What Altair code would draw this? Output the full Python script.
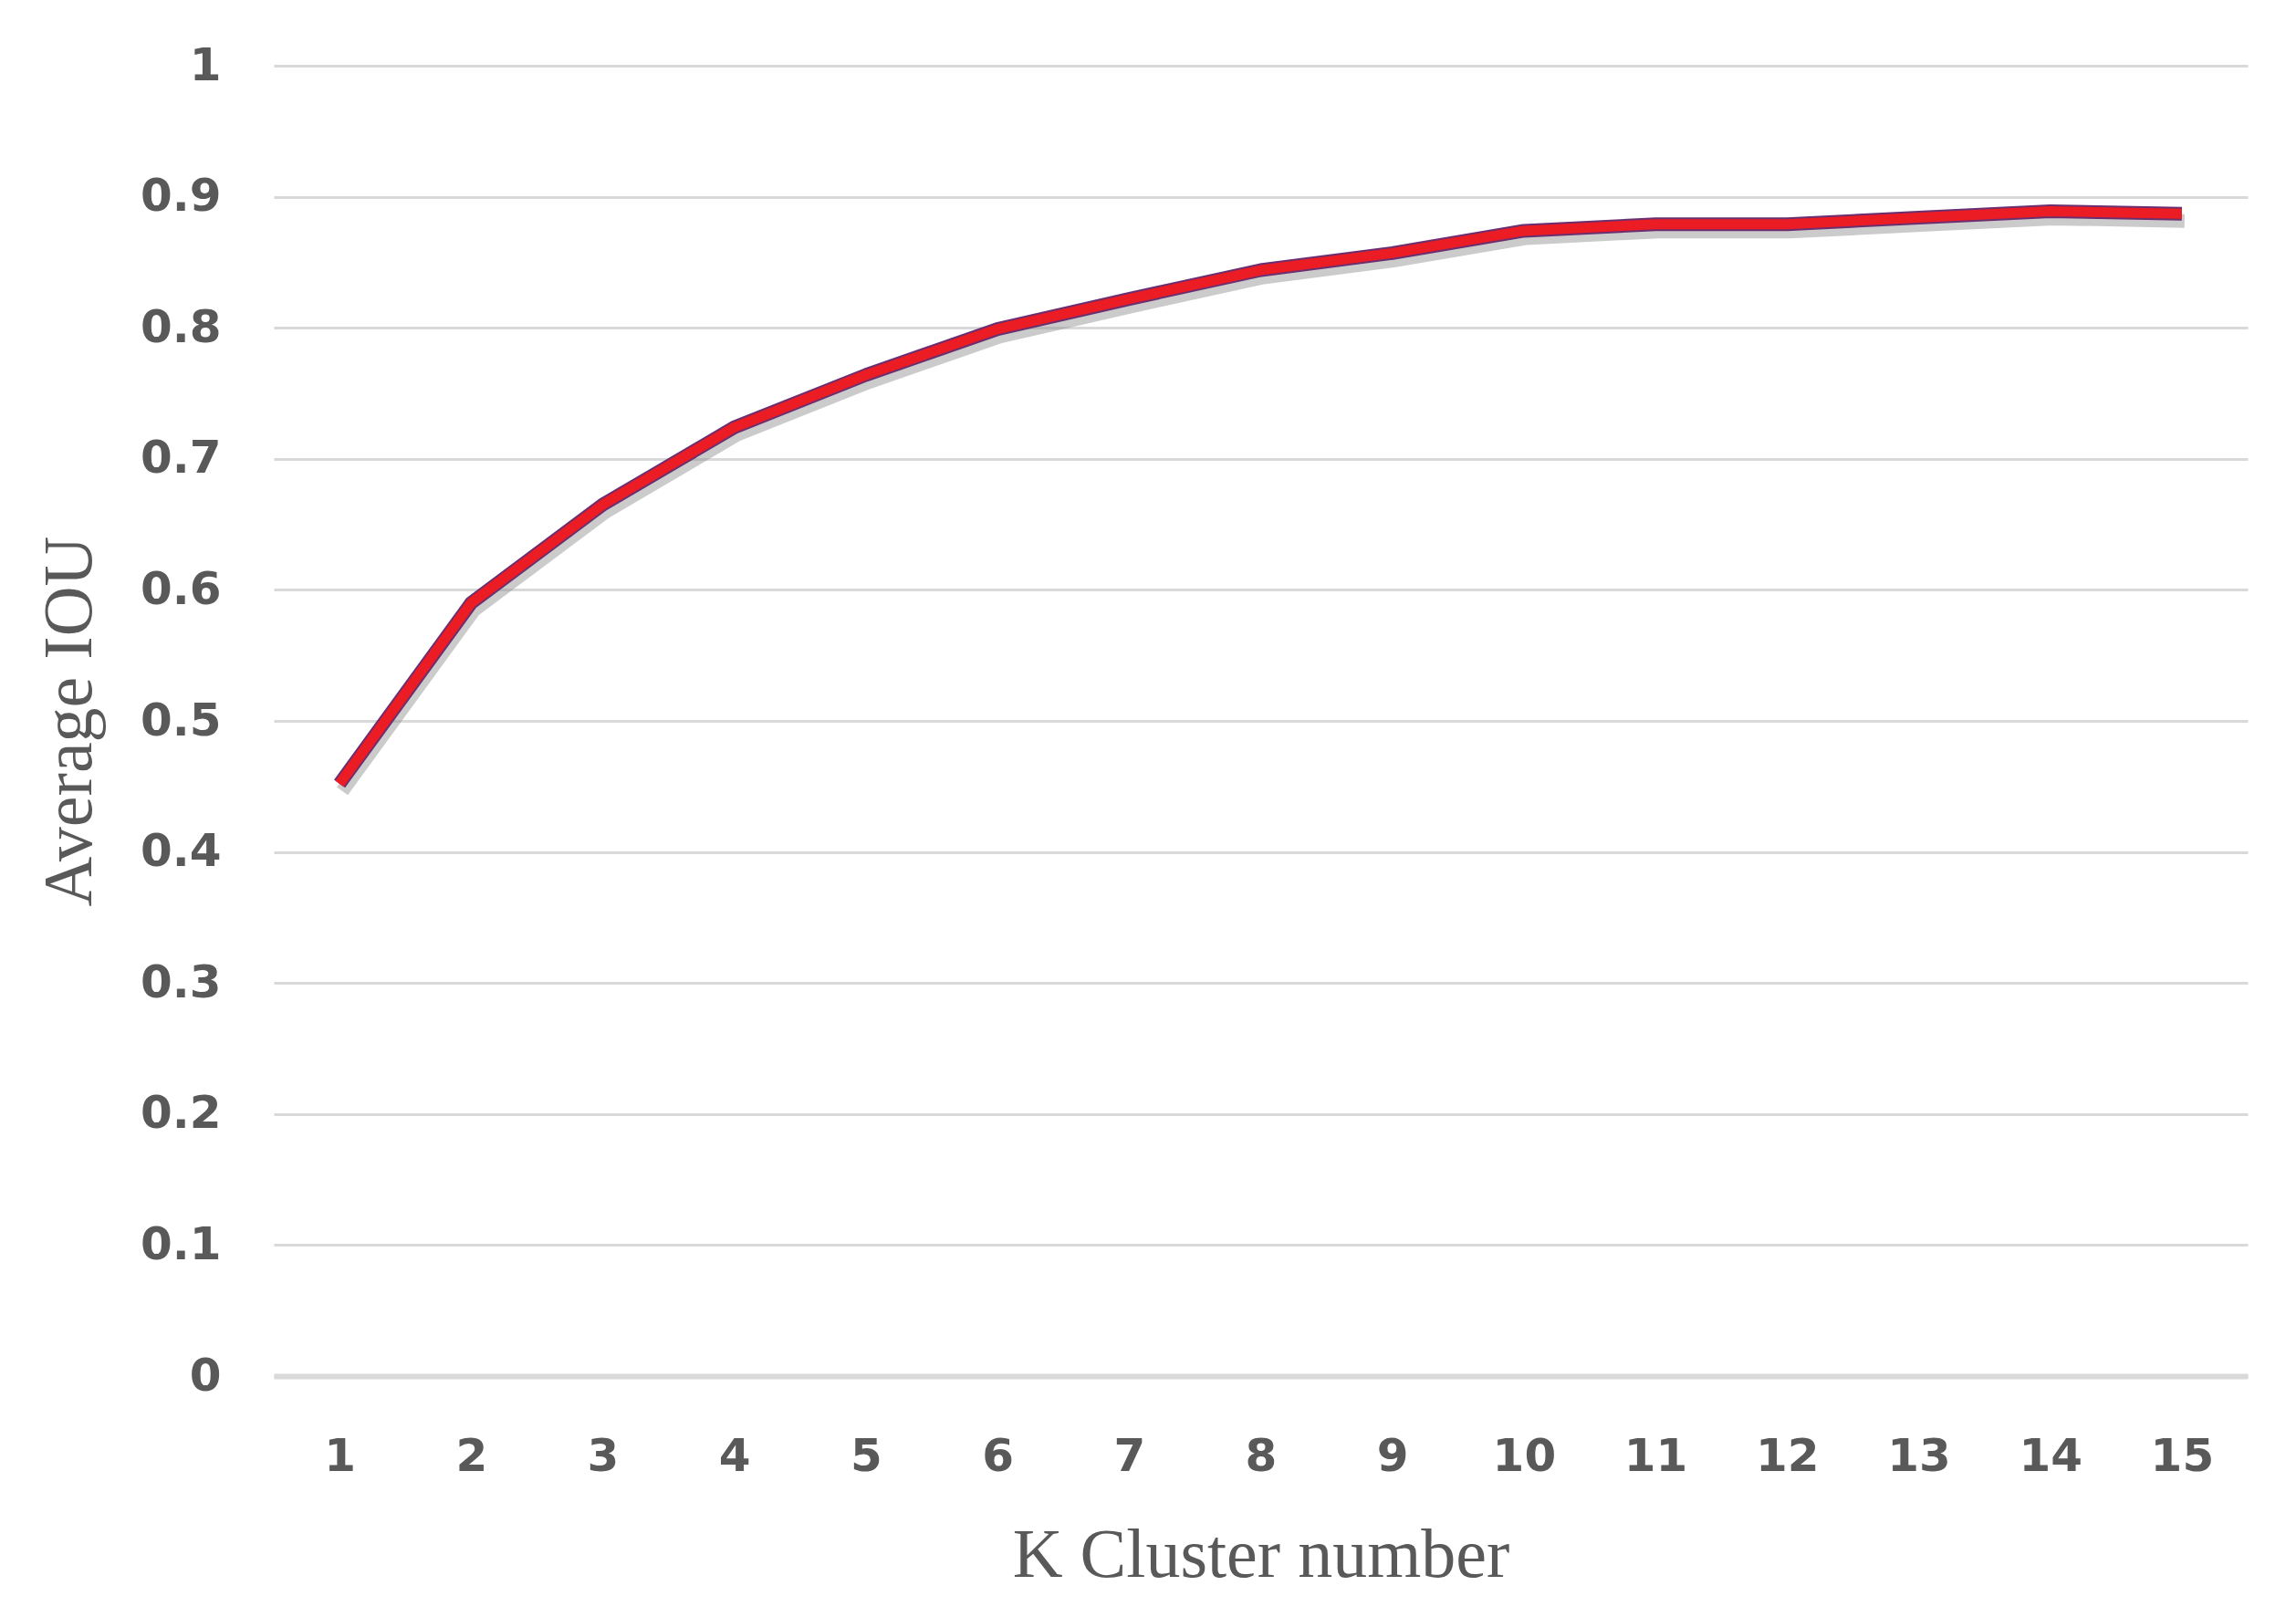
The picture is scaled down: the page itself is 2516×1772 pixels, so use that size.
import altair as alt
import pandas as pd

k_values = list(range(1, 16))
avg_iou = [0.452, 0.59, 0.665, 0.724, 0.764, 0.799, 0.822, 0.844, 0.857,
           0.874, 0.879, 0.879, 0.884, 0.889, 0.887]
y_ticks = [0, 0.1, 0.2, 0.3, 0.4, 0.5, 0.6, 0.7, 0.8, 0.9, 1]

df = pd.DataFrame({"k": k_values, "iou": avg_iou})

x_enc = alt.X("k:O", sort=k_values,
              axis=alt.Axis(title="K Cluster number", labelAngle=0, ticks=False,
                            grid=False,
                            domainColor="#d9d9d9", domainWidth=6,
                            labelFont="DejaVu Sans", labelFontWeight="bold",
                            labelFontSize=50, labelColor="#595959", labelPadding=63,
                            titleFont="Liberation Serif", titleFontWeight="normal",
                            titleFontSize=76, titleColor="#595959", titlePadding=46))
y_enc = alt.Y("iou:Q", scale=alt.Scale(domain=[0, 1], nice=False, zero=True),
              axis=alt.Axis(title="Average IOU", values=y_ticks, format="~g",
                            ticks=False, domain=False,
                            gridColor="#d9d9d9", gridWidth=3,
                            labelFont="DejaVu Sans", labelFontWeight="bold",
                            labelFontSize=50, labelColor="#595959", labelPadding=58,
                            titleFont="Liberation Serif", titleFontWeight="normal",
                            titleFontSize=76, titleColor="#595959", titlePadding=38))

base = alt.Chart(df)
shadow = base.mark_line(color="#8c8c8c", opacity=0.45, strokeWidth=15,
                        yOffset=8, xOffset=3, strokeCap="butt").encode(x=x_enc, y=y_enc)
outline = base.mark_line(color="#6b2f6f", strokeWidth=15, strokeCap="butt",
                         strokeJoin="round").encode(x=x_enc, y=y_enc)
red = base.mark_line(color="#ec1c24", strokeWidth=11, strokeCap="butt",
                     strokeJoin="round").encode(x=x_enc, y=y_enc)

chart = alt.layer(shadow, outline, red).properties(
    width=2163, height=1436,
    autosize=alt.AutoSizeParams(type="none"),
    padding={"left": 292, "top": 64, "right": 45, "bottom": 250},
    background="white",
).configure_view(stroke=None, strokeWidth=0)

chart.save("out.html", embed_options={"renderer": "svg", "actions": False})
